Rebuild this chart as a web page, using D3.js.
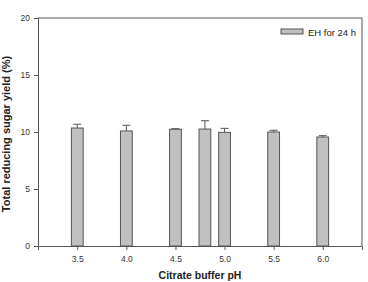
<!DOCTYPE html>
<html>
<head>
<meta charset="utf-8">
<script src="https://cdn.jsdelivr.net/npm/d3@7"></script>
<style>
  body { margin: 0; background: #fff; }
  svg { display: block; font-family: "Liberation Sans", Arial, sans-serif; }
</style>
</head>
<body>
<div id="chart"></div>
<script>
// pH values and yields
const phValues = [3.5, 4.0, 4.5, 4.8, 5.0, 5.5, 6.0];
const yieldValues = [10.35, 10.09, 10.24, 10.26, 9.97, 10.0, 9.56];
const yieldErrors = [0.33, 0.5, 0.05, 0.73, 0.35, 0.15, 0.12];
const xTicks = [3.5, 4.0, 4.5, 5.0, 5.5, 6.0];
const yTicks = [0, 5, 10, 15, 20];
const seriesName = "EH for 24 h";

const W = 368, H = 282;
const margin = { top: 18, right: 6, bottom: 36, left: 38 };
const innerW = W - margin.left - margin.right;
const innerH = H - margin.top - margin.bottom;
const lineColor = "#555";

const svg = d3.select("#chart").append("svg")
    .attr("width", W)
    .attr("height", H);
const g = svg.append("g")
    .attr("transform", `translate(${margin.left},${margin.top})`);

const x = d3.scaleLinear().domain([3.1, 6.4]).range([0, innerW]);
const y = d3.scaleLinear().domain([0, 20]).range([innerH, 0]);
const barHalf = 0.06; // bar half-width in pH units

// frame (top and right)
g.append("path")
    .attr("d", `M0,0H${innerW}V${innerH}`)
    .attr("fill", "none")
    .attr("stroke", lineColor)
    .attr("stroke-width", 1);

// axes
const xAxis = g.append("g")
    .attr("transform", `translate(0,${innerH})`)
    .call(d3.axisBottom(x).tickValues(xTicks).tickFormat(d3.format(".1f")).tickSizeOuter(0).tickSize(4).tickPadding(6));
const yAxis = g.append("g")
    .call(d3.axisLeft(y).tickValues(yTicks).tickSizeOuter(0).tickSize(4).tickPadding(4));
[xAxis, yAxis].forEach(a => {
    a.select(".domain").attr("stroke", lineColor);
    a.selectAll(".tick line").attr("stroke", lineColor);
    a.selectAll(".tick text").attr("fill", "#333").attr("font-size", 8.5);
});

const data = phValues.map((p, i) => ({ ph: p, value: yieldValues[i], err: yieldErrors[i] }));

// error bars (up only)
const capHalf = 4;
const eb = g.selectAll(".err").data(data).enter().append("g").attr("class", "err");
eb.append("line")
    .attr("x1", d => x(d.ph)).attr("x2", d => x(d.ph))
    .attr("y1", d => y(d.value)).attr("y2", d => y(d.value + d.err))
    .attr("stroke", lineColor);
eb.append("line")
    .attr("x1", d => x(d.ph) - capHalf).attr("x2", d => x(d.ph) + capHalf)
    .attr("y1", d => y(d.value + d.err)).attr("y2", d => y(d.value + d.err))
    .attr("stroke", lineColor);

// bars
g.selectAll(".bar").data(data).enter().append("rect")
    .attr("class", "bar")
    .attr("x", d => x(d.ph - barHalf))
    .attr("width", d => x(d.ph + barHalf) - x(d.ph - barHalf))
    .attr("y", d => y(d.value))
    .attr("height", d => innerH - y(d.value))
    .attr("fill", "#c0c0c0")
    .attr("stroke", lineColor)
    .attr("stroke-width", 1);

// legend
const legend = g.append("g").attr("transform", `translate(${innerW - 81},${11})`);
legend.append("rect")
    .attr("width", 22).attr("height", 5)
    .attr("fill", "#c0c0c0").attr("stroke", lineColor);
legend.append("text")
    .attr("x", 27).attr("y", 6.5)
    .attr("font-size", 9.5).attr("fill", "#222")
    .text(seriesName);

// axis titles
svg.append("text")
    .attr("x", margin.left + x(4.75)).attr("y", 279)
    .attr("text-anchor", "middle")
    .attr("font-size", 10.5).attr("font-weight", "bold").attr("fill", "#222")
    .text("Citrate buffer pH");
svg.append("text")
    .attr("transform", `translate(10,${margin.top + innerH / 2 + 2}) rotate(-90)`)
    .attr("text-anchor", "middle")
    .attr("font-size", 11).attr("font-weight", "bold").attr("fill", "#222")
    .text("Total reducing sugar yield (%)");
</script>
</body>
</html>
